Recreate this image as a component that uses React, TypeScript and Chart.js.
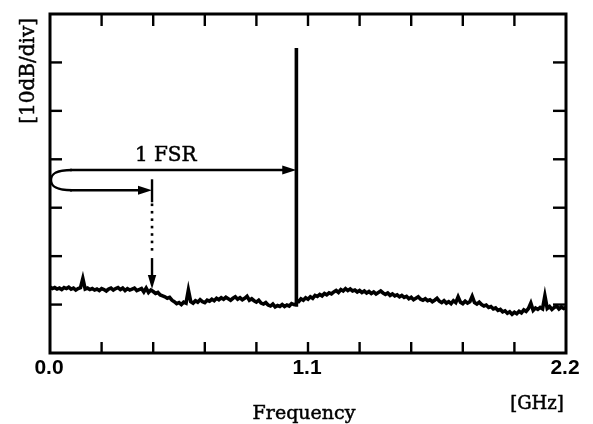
import { useEffect, useRef } from "react";
import { Chart, registerables } from "chart.js";

Chart.register(...registerables);

// Frequency axis (GHz) of the measured trace
const freqGHz = [
  0.00, 0.01, 0.02, 0.03, 0.04, 0.05, 0.06, 0.07, 0.08, 0.09,
  0.10, 0.11, 0.12, 0.13, 0.14, 0.15, 0.16, 0.17, 0.18, 0.19,
  0.20, 0.21, 0.22, 0.23, 0.24, 0.25, 0.26, 0.27, 0.28, 0.29,
  0.30, 0.31, 0.32, 0.33, 0.34, 0.35, 0.36, 0.37, 0.38, 0.39,
  0.40, 0.41, 0.42, 0.43, 0.44, 0.45, 0.46, 0.47, 0.48, 0.49,
  0.50, 0.51, 0.52, 0.53, 0.54, 0.55, 0.56, 0.57, 0.58, 0.59,
  0.60, 0.61, 0.62, 0.63, 0.64, 0.65, 0.66, 0.67, 0.68, 0.69,
  0.70, 0.71, 0.72, 0.73, 0.74, 0.75, 0.76, 0.77, 0.78, 0.79,
  0.80, 0.81, 0.82, 0.83, 0.84, 0.85, 0.86, 0.87, 0.88, 0.89,
  0.90, 0.91, 0.92, 0.93, 0.94, 0.95, 0.96, 0.97, 0.98, 0.99,
  1.00, 1.01, 1.02, 1.03, 1.04, 1.049, 1.05, 1.051, 1.06, 1.07, 1.08, 1.09,
  1.10, 1.11, 1.12, 1.13, 1.14, 1.15, 1.16, 1.17, 1.18, 1.19,
  1.20, 1.21, 1.22, 1.23, 1.24, 1.25, 1.26, 1.27, 1.28, 1.29,
  1.30, 1.31, 1.32, 1.33, 1.34, 1.35, 1.36, 1.37, 1.38, 1.39,
  1.40, 1.41, 1.42, 1.43, 1.44, 1.45, 1.46, 1.47, 1.48, 1.49,
  1.50, 1.51, 1.52, 1.53, 1.54, 1.55, 1.56, 1.57, 1.58, 1.59,
  1.60, 1.61, 1.62, 1.63, 1.64, 1.65, 1.66, 1.67, 1.68, 1.69,
  1.70, 1.71, 1.72, 1.73, 1.74, 1.75, 1.76, 1.77, 1.78, 1.79,
  1.80, 1.81, 1.82, 1.83, 1.84, 1.85, 1.86, 1.87, 1.88, 1.89,
  1.90, 1.91, 1.92, 1.93, 1.94, 1.95, 1.96, 1.97, 1.98, 1.99,
  2.00, 2.01, 2.02, 2.03, 2.04, 2.05, 2.06, 2.07, 2.08, 2.09,
  2.10, 2.11, 2.12, 2.13, 2.14, 2.15, 2.16, 2.17, 2.18, 2.19, 2.20,
];

// Relative level (dB, 10 dB per division)
const levelDb = [
  13.6, 13.3, 13.5, 13.2, 13.4, 13.1, 13.5, 13.3, 13.6, 13.2,
  13.4, 13.0, 13.3, 13.5, 15.4, 13.2, 13.4, 13.1, 13.3, 13.0,
  13.2, 12.9, 13.3, 13.1, 12.8, 13.2, 13.4, 13.0, 13.3, 13.5,
  13.1, 13.4, 12.9, 13.3, 13.0, 13.2, 13.4, 12.9, 13.1, 13.3,
  12.6, 13.4, 12.5, 13.0, 12.7, 12.3, 12.5, 12.0, 11.8, 11.6,
  11.3, 11.5, 10.9, 10.6, 10.2, 10.4, 10.0, 10.5, 10.3, 13.0,
  10.6, 10.3, 10.8, 10.5, 11.0, 10.6, 10.4, 10.9, 10.7, 11.1,
  10.8, 11.3, 11.0, 11.4, 11.1, 11.5, 11.2, 10.9, 11.3, 11.6,
  11.1, 11.4, 11.0, 11.3, 11.7, 10.9, 11.2, 10.8, 10.5, 10.9,
  10.3, 10.1, 10.4, 9.9, 9.7, 10.1, 9.5, 9.8, 9.6, 10.0,
  9.6, 9.9, 9.7, 10.2, 10.0, 9.9, 63.0, 10.6, 10.6, 11.2, 10.9, 11.4,
  11.1, 11.6, 11.3, 11.9, 11.7, 12.1, 11.8, 12.3, 12.0, 12.4,
  12.2, 12.6, 12.9, 12.5, 13.1, 12.8, 13.3, 12.9, 13.2, 12.8,
  13.0, 12.6, 12.9, 12.5, 12.8, 12.4, 12.7, 12.3, 12.6, 12.2,
  12.5, 12.8, 12.4, 12.1, 12.4, 11.9, 12.2, 11.8, 12.0, 11.6,
  11.9, 11.5, 11.7, 11.2, 11.5, 11.0, 11.3, 11.6, 11.1, 10.9,
  11.2, 10.8, 11.0, 10.6, 10.9, 11.3, 10.7, 10.4, 10.8, 10.3,
  10.6, 10.2, 10.8, 10.4, 11.6, 10.5, 10.2, 10.7, 10.3, 10.6,
  11.7, 10.4, 10.1, 10.5, 10.0, 9.7, 9.9, 9.4, 9.6, 9.1,
  9.3, 8.8, 9.0, 8.5, 8.7, 8.2, 8.5, 8.0, 8.4, 8.1,
  8.6, 8.3, 8.9, 8.6, 9.2, 10.3, 8.8, 9.3, 9.0, 9.4,
  9.1, 11.8, 9.2, 9.6, 9.0, 9.4, 9.7, 9.1, 9.5, 9.2, 9.4,
];

// Axis ticks
const xTickValues = [0, 0.22, 0.44, 0.66, 0.88, 1.1, 1.32, 1.54, 1.76, 1.98, 2.2];
const xLabelValues = [0, 1.1, 2.2];
const xLabelTexts = ["0.0", "1.1", "2.2"];
const yTickValues = [0, 10, 20, 30, 40, 50, 60, 70];

// Text
const yTitle = "[10dB/div]";
const xTitle = "Frequency";
const xUnit = "[GHz]";
const fsrLabel = "1 FSR";

// Annotation anchors (data units)
const fsrLevelDb = 37.8;
const markLevelDb = 33.6;
const markFreqGHz = 0.435;
const peakFreqGHz = 1.05;
const labelFreqGHz = 0.362;
const labelLevelDb = 39.6;
const dotsTopDb = 30.6;
const dotsBottomDb = 21.4;
const downArrowTopDb = 19.6;
const downArrowTipDb = 13.2;

export default function App() {
  const ref = useRef<HTMLCanvasElement>(null);

  useEffect(() => {
    document.body.style.margin = "0";
    const canvas = ref.current;
    if (!canvas) return;

    const arrowHead = (ctx: CanvasRenderingContext2D, x: number, y: number, dir: "right" | "down", len: number, half: number) => {
      ctx.beginPath();
      if (dir === "right") {
        ctx.moveTo(x, y);
        ctx.lineTo(x - len, y - half);
        ctx.lineTo(x - len, y + half);
      } else {
        ctx.moveTo(x, y);
        ctx.lineTo(x - half, y - len);
        ctx.lineTo(x + half, y - len);
      }
      ctx.closePath();
      ctx.fill();
    };

    const line = (ctx: CanvasRenderingContext2D, x1: number, y1: number, x2: number, y2: number) => {
      ctx.beginPath();
      ctx.moveTo(x1, y1);
      ctx.lineTo(x2, y2);
      ctx.stroke();
    };

    const boldText = (ctx: CanvasRenderingContext2D, s: string, x: number, y: number) => {
      ctx.fillText(s, x, y);
      ctx.lineWidth = 0.5;
      ctx.strokeText(s, x, y);
    };

    const framePlugin = {
      id: "frame",
      afterDraw(chart: any) {
        const { ctx, chartArea: a, scales } = chart;
        const xs = scales.x;
        const ys = scales.y;
        ctx.save();
        ctx.strokeStyle = "#000";
        ctx.fillStyle = "#000";
        ctx.lineCap = "butt";

        // Frame
        ctx.lineWidth = 3;
        ctx.strokeRect(a.left, a.top, a.right - a.left, a.bottom - a.top);

        // Inward ticks
        ctx.lineWidth = 2.4;
        xs.ticks.forEach((t: any) => {
          if (t.value <= xs.min + 1e-9 || t.value >= xs.max - 1e-9) return;
          const px = xs.getPixelForValue(t.value);
          line(ctx, px, a.bottom, px, a.bottom - 11);
          line(ctx, px, a.top, px, a.top + 12);
        });
        ys.ticks.forEach((t: any) => {
          if (t.value <= ys.min + 1e-9 || t.value >= ys.max - 1e-9) return;
          const py = ys.getPixelForValue(t.value);
          line(ctx, a.left, py, a.left + 12, py);
          line(ctx, a.right, py, a.right - 13, py);
        });

        // Tick labels
        ctx.font = "bold 21px 'Liberation Sans', Arial, sans-serif";
        ctx.textAlign = "center";
        ctx.textBaseline = "alphabetic";
        xLabelValues.forEach((v, i) => {
          const px = xs.getPixelForValue(v);
          ctx.fillText(xLabelTexts[i], px - 1, a.bottom + 21);
        });

        // Titles
        ctx.font = "19px 'DejaVu Serif', serif";
        ctx.textAlign = "center";
        boldText(ctx, xTitle, (a.left + a.right) / 2 - 4, 419);
        ctx.font = "18px 'DejaVu Serif', serif";
        boldText(ctx, xUnit, 537, 409);
        ctx.save();
        ctx.translate(34, a.top + 4);
        ctx.rotate(-Math.PI / 2);
        ctx.font = "20px 'DejaVu Serif', serif";
        ctx.textAlign = "right";
        ctx.textBaseline = "alphabetic";
        boldText(ctx, yTitle, 0, 0);
        ctx.restore();

        // FSR annotation
        const yU = ys.getPixelForValue(fsrLevelDb);
        const yL = ys.getPixelForValue(markLevelDb);
        const xPeak = xs.getPixelForValue(peakFreqGHz);
        const xMark = xs.getPixelForValue(markFreqGHz);
        const L = a.left;
        ctx.lineWidth = 2.4;
        // loop
        ctx.beginPath();
        ctx.moveTo(L + 22, yU);
        ctx.bezierCurveTo(L + 4, yU, L + 1, yU + 5, L + 1, (yU + yL) / 2);
        ctx.bezierCurveTo(L + 1, yL - 5, L + 4, yL, L + 22, yL);
        ctx.stroke();
        // upper arrow
        line(ctx, L + 20, yU, xPeak - 10, yU);
        arrowHead(ctx, xPeak, yU, "right", 14, 4.5);
        // lower arrow
        line(ctx, L + 20, yL, xMark - 10, yL);
        arrowHead(ctx, xMark, yL, "right", 14, 4.5);
        // vertical bar at mark
        line(ctx, xMark, yL - 11, xMark, yL + 12);
        // dotted line
        const yd1 = ys.getPixelForValue(dotsTopDb);
        const yd2 = ys.getPixelForValue(dotsBottomDb);
        const nDots = 7;
        for (let i = 0; i < nDots; i++) {
          const yy = yd1 + ((yd2 - yd1) * i) / (nDots - 1);
          ctx.fillRect(xMark - 1.3, yy - 1.3, 2.6, 2.6);
        }
        // down arrow
        const ya1 = ys.getPixelForValue(downArrowTopDb);
        const ya2 = ys.getPixelForValue(downArrowTipDb);
        line(ctx, xMark, ya1, xMark, ya2 - 10);
        arrowHead(ctx, xMark, ya2, "down", 14, 4.2);

        // label
        ctx.font = "20px 'DejaVu Serif', serif";
        ctx.textAlign = "left";
        ctx.textBaseline = "alphabetic";
        boldText(ctx, fsrLabel, xs.getPixelForValue(labelFreqGHz), ys.getPixelForValue(labelLevelDb));

        ctx.restore();
      },
    };

    const chart = new Chart(canvas, {
      type: "line",
      data: {
        datasets: [
          {
            data: freqGHz.map((f, i) => ({ x: f, y: levelDb[i] })),
            borderColor: "#000",
            borderWidth: 3.6,
            borderJoinStyle: "miter",
            pointRadius: 0,
            tension: 0,
            fill: false,
          },
        ],
      },
      options: {
        animation: false,
        responsive: false,
        devicePixelRatio: 1,
        layout: { padding: { left: 50, top: 14, right: 27, bottom: 71 } },
        plugins: { legend: { display: false }, tooltip: { enabled: false } },
        scales: {
          x: {
            type: "linear",
            display: false,
            min: 0,
            max: 2.2,
            afterBuildTicks: (s: any) => {
              s.ticks = xTickValues.map((v) => ({ value: v }));
            },
          },
          y: {
            type: "linear",
            display: false,
            min: 0,
            max: 70,
            afterBuildTicks: (s: any) => {
              s.ticks = yTickValues.map((v) => ({ value: v }));
            },
          },
        },
      },
      plugins: [framePlugin],
    });

    return () => chart.destroy();
  }, []);

  return <canvas ref={ref} width={593} height={424} style={{ display: "block" }} />;
}
